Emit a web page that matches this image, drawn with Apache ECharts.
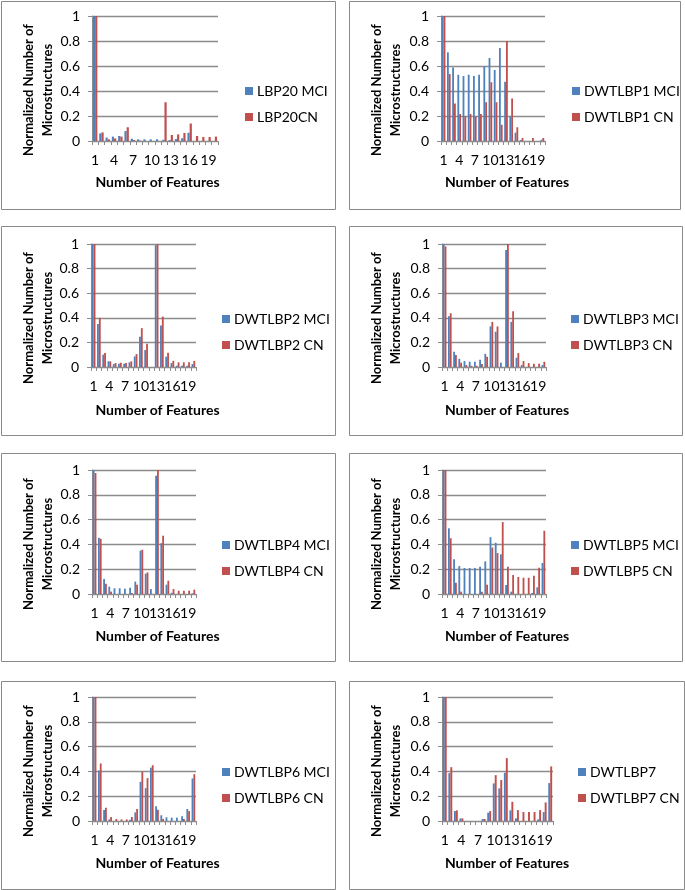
<!DOCTYPE html>
<html>
<head>
<meta charset="utf-8">
<script src="https://cdn.jsdelivr.net/npm/echarts@6/dist/echarts.min.js"></script>
<style>
html,body{margin:0;padding:0;background:#fff;}
#chart{width:685px;height:890px;}
</style>
</head>
<body>
<div id="chart"></div>
<script>
// ---------- data ----------
const categories = ['1','2','3','4','5','6','7','8','9','10','11','12','13','14','15','16','17','18','19','20'];
const shownLabels = ['1','4','7','10','13','16','19'];

const lbp20MCI = [1.0,0.061,0.027,0.035,0.04,0.08,0.018,0.013,0.013,0.013,0.013,0.01,0.008,0.015,0.022,0.066,0,0,0,0];
const lbp20CN  = [1.0,0.069,0.013,0.02,0.035,0.11,0.008,0.003,0,0,0,0.31,0.048,0.053,0.064,0.14,0.04,0.032,0.032,0.035];

const dwt1MCI = [1.0,0.709,0.589,0.53,0.52,0.53,0.52,0.53,0.597,0.664,0.568,0.744,0.475,0.195,0.067,0.008,0,0,0,0.01];
const dwt1CN  = [1.0,0.536,0.30,0.216,0.195,0.216,0.195,0.216,0.31,0.47,0.31,0.13,0.80,0.34,0.11,0.024,0,0.024,0,0.024];

const dwt2MCI = [1.0,0.35,0.10,0.046,0.024,0.027,0.027,0.038,0.086,0.246,0.138,0,0.99,0.338,0.084,0.032,0.01,0.01,0.01,0.024];
const dwt2CN  = [1.0,0.40,0.113,0.046,0.032,0.035,0.032,0.046,0.105,0.316,0.19,0,1.0,0.41,0.116,0.05,0.038,0.038,0.038,0.05];

const dwt3MCI = [1.0,0.413,0.123,0.067,0.048,0.043,0.043,0.059,0.107,0.33,0.287,0.035,0.952,0.367,0.075,0.016,0,0,0,0.016];
const dwt3CN  = [0.98,0.437,0.097,0.035,0.016,0.01,0.01,0.024,0.083,0.367,0.33,0,1.0,0.453,0.113,0.048,0.032,0.027,0.027,0.043];

const dwt4MCI = [1.0,0.453,0.12,0.059,0.046,0.046,0.043,0.051,0.10,0.35,0.164,0.04,0.954,0.41,0.075,0.01,0,0,0,0.006];
const dwt4CN  = [0.976,0.445,0.083,0.019,0,0,0,0.008,0.075,0.357,0.174,0,1.0,0.47,0.107,0.04,0.027,0.027,0.027,0.035];

const dwt5MCI = [1.0,0.53,0.28,0.225,0.21,0.21,0.21,0.22,0.263,0.458,0.413,0.32,0.072,0.019,0,0,0,0.008,0.054,0.25];
const dwt5CN  = [1.0,0.45,0.09,0.019,0,0,0,0.019,0.075,0.375,0.33,0.58,0.22,0.153,0.137,0.131,0.131,0.147,0.212,0.51];

const dwt6MCI = [1.0,0.407,0.088,0.013,0,0,0,0.01,0.07,0.316,0.265,0.43,0.118,0.046,0.03,0.027,0.027,0.038,0.097,0.343];
const dwt6CN  = [1.0,0.464,0.107,0.032,0.016,0.013,0.013,0.032,0.097,0.397,0.346,0.45,0.091,0.016,0,0,0,0.016,0.08,0.378];

const dwt7MCI = [1.0,0.386,0.08,0.021,0,0,0,0.016,0.067,0.303,0.263,0.389,0.086,0.021,0,0,0,0.013,0.072,0.306];
const dwt7CN  = [1.0,0.434,0.086,0.021,0,0,0,0.016,0.08,0.37,0.33,0.507,0.155,0.088,0.072,0.072,0.072,0.088,0.15,0.44];

const seriesNames = [
  ['LBP20 MCI','LBP20CN'],
  ['DWTLBP1 MCI','DWTLBP1 CN'],
  ['DWTLBP2 MCI','DWTLBP2 CN'],
  ['DWTLBP3 MCI','DWTLBP3 CN'],
  ['DWTLBP4 MCI','DWTLBP4 CN'],
  ['DWTLBP5 MCI','DWTLBP5 CN'],
  ['DWTLBP6 MCI','DWTLBP6 CN'],
  ['DWTLBP7','DWTLBP7 CN']
];
const seriesData = [
  [lbp20MCI,lbp20CN],[dwt1MCI,dwt1CN],[dwt2MCI,dwt2CN],[dwt3MCI,dwt3CN],
  [dwt4MCI,dwt4CN],[dwt5MCI,dwt5CN],[dwt6MCI,dwt6CN],[dwt7MCI,dwt7CN]
];
const yTitle = 'Normalized Number of\nMicrostructures';
const xTitle = 'Number of Features';

// ---------- layout ----------
const panels = [
  {box:[1,1,334,208],   grid:[92,16,218,141],  legX:245},
  {box:[349,1,331,208], grid:[441,16,545,141], legX:572},
  {box:[1,226,334,209], grid:[91,244,196,367], legX:222},
  {box:[349,226,333,209],grid:[442,244,546,367],legX:571},
  {box:[1,453,334,208], grid:[92,470,196,594], legX:222},
  {box:[349,453,333,208],grid:[442,470,546,594],legX:571},
  {box:[1,681,334,208], grid:[92,697,196,821], legX:222},
  {box:[349,681,335,208],grid:[442,697,553,821],legX:578}
];
const FONT = 'Lato, "Open Sans", sans-serif';
const BLUE = '#4F81BD', RED = '#C0504D', GRIDC = '#8c8c8c';

const grids=[], xAxes=[], yAxes=[], series=[], legends=[], graphics=[];
panels.forEach((p,i)=>{
  const [l,t,r,b] = p.grid;
  grids.push({left:l, top:t, width:r-l, height:b-t, containLabel:false});
  xAxes.push({
    type:'category', gridIndex:i, data:categories, boundaryGap:true,
    axisLine:{show:true, lineStyle:{color:GRIDC, width:1}},
    axisTick:{show:true, interval:0, length:4, lineStyle:{color:GRIDC}},
    axisLabel:{interval:0, margin:12, color:'#000', fontSize:14, fontFamily:FONT,
      hideOverlap:false, showMinLabel:true, showMaxLabel:false,
      formatter:v=> shownLabels.includes(v) ? v : ''},
    splitLine:{show:false}
  });
  yAxes.push({
    type:'value', gridIndex:i, min:0, max:1, interval:0.2,
    axisLine:{show:true, lineStyle:{color:GRIDC, width:1}},
    axisTick:{show:true, length:4, lineStyle:{color:GRIDC}},
    axisLabel:{margin:12, color:'#000', fontSize:14, fontFamily:FONT,
      formatter:v=>String(Math.round(v*10)/10)},
    splitLine:{show:true, lineStyle:{color:GRIDC, width:1.3}}
  });
  const colors=[BLUE,RED];
  for(let k=0;k<2;k++){
    series.push({
      type:'bar', name:seriesNames[i][k], xAxisIndex:i, yAxisIndex:i,
      data:seriesData[i][k], barGap:'0%', barCategoryGap:'30%',
      itemStyle:{color:colors[k]}, animation:false
    });
  }
  legends.push({
    data:seriesNames[i], orient:'vertical', left:p.legX, top:t+75-8,
    itemWidth:8, itemHeight:8, itemGap:10, padding:0, icon:'rect',
    selectedMode:false,
    textStyle:{fontSize:14, fontFamily:FONT, color:'#000', lineHeight:16, padding:[0,0,0,-1]}
  });
  const [bx,by,bw,bh] = p.box;
  graphics.push({type:'rect', shape:{x:bx+0.5,y:by+0.5,width:bw,height:bh},
    style:{fill:'none', stroke:'#8a8a8a', lineWidth:1}, silent:true});
  const colLeft = bx < 100;
  graphics.push({type:'text', x:bx+37.5, y:t+74, rotation:Math.PI/2,
    style:{text:yTitle, font:'bold 13px '+FONT, fill:'#000', textAlign:'center',
      textVerticalAlign:'middle', lineHeight:19}, silent:true});
  graphics.push({type:'text', x:colLeft?157.5:507, y:t+166,
    style:{text:xTitle, font:'bold 14px '+FONT, fill:'#000', textAlign:'center',
      textVerticalAlign:'middle'}, silent:true});
});

const chart = echarts.init(document.getElementById('chart'), null, {renderer:'canvas'});
chart.setOption({
  animation:false,
  backgroundColor:'#fff',
  grid:grids, xAxis:xAxes, yAxis:yAxes, series:series, legend:legends,
  graphic:graphics
});
</script>
</body>
</html>
